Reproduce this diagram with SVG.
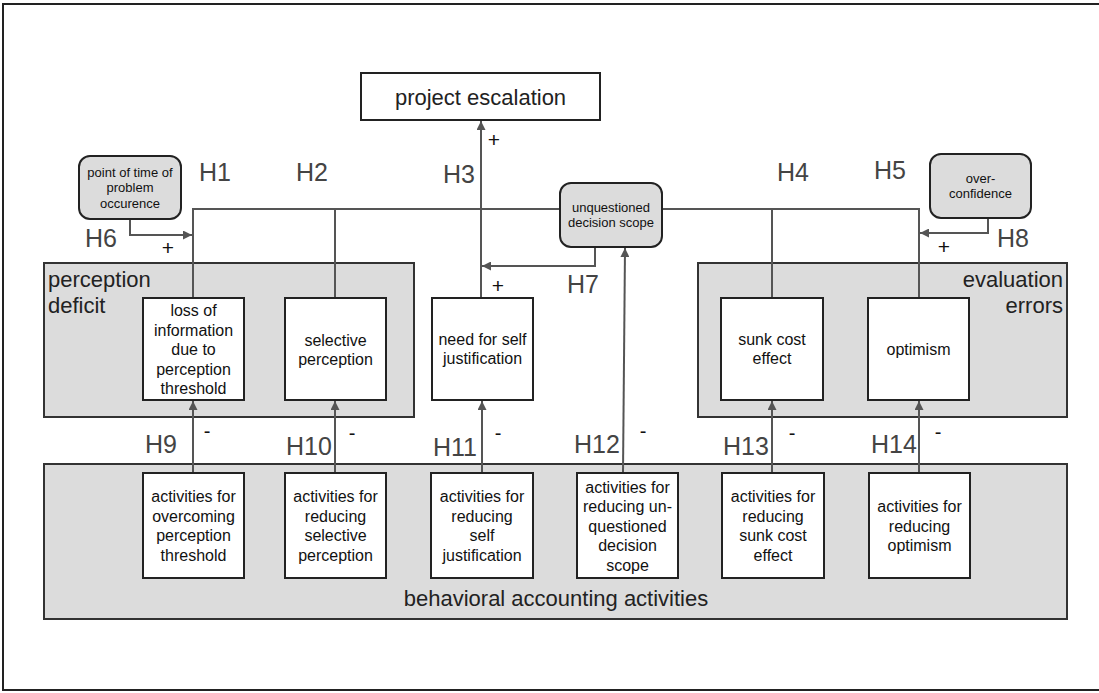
<svg xmlns="http://www.w3.org/2000/svg" width="1099" height="693" viewBox="0 0 1099 693">
<style>
text{font-family:"Liberation Sans",Arial,sans-serif}
.frame{fill:#fff;stroke:#222;stroke-width:2}
.grp{fill:#dcdcdc;stroke:#333;stroke-width:2}
.box{fill:#fff;stroke:#222;stroke-width:2}
.rbox{fill:#dcdcdc;stroke:#222;stroke-width:2}
.ln{fill:none;stroke:#555;stroke-width:2}
.h{font-size:25px;fill:#444}
.gl{font-size:22px;fill:#222}
.t{font-size:16px;fill:#111;text-anchor:middle}
.s{font-size:13px;fill:#111;text-anchor:middle}
.sg{font-size:21px;fill:#111;text-anchor:middle}
.mn{font-size:20px;fill:#111;text-anchor:middle}
</style>
<defs>
<marker id="ah" viewBox="0 0 10 10" refX="10" refY="5" markerWidth="9" markerHeight="9" markerUnits="userSpaceOnUse" orient="auto">
<path d="M0,0 L10,5 L0,10 z" fill="#555"/>
</marker>
</defs>
<rect class="frame" x="3" y="4" width="1100" height="686"/>

<g id="perception-deficit">
<rect class="grp" x="44" y="263" width="370" height="154"/>
<text class="gl" x="48" y="287">perception</text>
<text class="gl" x="48" y="313">deficit</text>
</g>
<g id="evaluation-errors">
<rect class="grp" x="698" y="263" width="369" height="154"/>
<text class="gl" x="1063" y="287" text-anchor="end">evaluation</text>
<text class="gl" x="1063" y="313" text-anchor="end">errors</text>
</g>
<g id="behavioral-accounting-activities">
<rect class="grp" x="44" y="464" width="1023" height="155"/>
<text class="gl" x="556" y="606" text-anchor="middle">behavioral accounting activities</text>
</g>

<g id="connectors">
<path class="ln" d="M193,298 V209 H919 V298"/>
<path class="ln" d="M335,209 V298"/>
<path class="ln" d="M772,209 V298"/>
<path class="ln" d="M481,298 V121" marker-end="url(#ah)"/>
<path class="ln" d="M595,247 V266 H482" marker-end="url(#ah)"/>
<path class="ln" d="M623,473 L625,248" marker-end="url(#ah)"/>
<path class="ln" d="M130,219 V235 H192" marker-end="url(#ah)"/>
<path class="ln" d="M988,218 V233 H920" marker-end="url(#ah)"/>
<path class="ln" d="M193,473 V401" marker-end="url(#ah)"/>
<path class="ln" d="M335,473 V401" marker-end="url(#ah)"/>
<path class="ln" d="M482,473 V401" marker-end="url(#ah)"/>
<path class="ln" d="M772,473 V401" marker-end="url(#ah)"/>
<path class="ln" d="M919,473 V401" marker-end="url(#ah)"/>
</g>

<g id="labels">
<text class="h" x="199" y="181">H1</text>
<text class="h" x="296" y="181">H2</text>
<text class="h" x="443" y="183">H3</text>
<text class="h" x="777" y="181">H4</text>
<text class="h" x="874" y="179">H5</text>
<text class="h" x="85" y="247">H6</text>
<text class="h" x="567" y="293">H7</text>
<text class="h" x="997" y="247">H8</text>
<text class="h" x="145" y="453">H9</text>
<text class="h" x="286" y="455">H10</text>
<text class="h" x="433" y="456">H11</text>
<text class="h" x="574" y="453">H12</text>
<text class="h" x="723" y="455">H13</text>
<text class="h" x="871" y="453">H14</text>
<text class="sg" x="168" y="255">+</text>
<text class="sg" x="494" y="147">+</text>
<text class="sg" x="498" y="293">+</text>
<text class="sg" x="944" y="254">+</text>
<text class="mn" x="207" y="438">-</text>
<text class="mn" x="352" y="440">-</text>
<text class="mn" x="498" y="440">-</text>
<text class="mn" x="643" y="438">-</text>
<text class="mn" x="792" y="440">-</text>
<text class="mn" x="938" y="439">-</text>
</g>

<g id="project-escalation">
<rect class="box" x="361" y="73" width="239" height="47"/>
<text class="gl" x="480.5" y="105" text-anchor="middle">project escalation</text>
</g>
<g id="point-of-time">
<rect class="rbox" x="79" y="156" width="102" height="63" rx="11"/>
<text class="s" x="130" y="177">point of time of</text>
<text class="s" x="130" y="192">problem</text>
<text class="s" x="130" y="207.5">occurence</text>
</g>
<g id="unquestioned-decision-scope">
<rect class="rbox" x="560" y="183" width="102" height="64" rx="11"/>
<text class="s" x="611" y="211.5">unquestioned</text>
<text class="s" x="611" y="226.5">decision scope</text>
</g>
<g id="overconfidence">
<rect class="rbox" x="930" y="154" width="101" height="64" rx="11"/>
<text class="s" x="980.5" y="183">over-</text>
<text class="s" x="980.5" y="198">confidence</text>
</g>

<g id="loss-of-information">
<rect class="box" x="143" y="298" width="101" height="102"/>
<text class="t" x="193.5" y="316">loss of</text>
<text class="t" x="193.5" y="335.5">information</text>
<text class="t" x="193.5" y="355">due to</text>
<text class="t" x="193.5" y="374.5">perception</text>
<text class="t" x="193.5" y="394">threshold</text>
</g>
<g id="selective-perception">
<rect class="box" x="285" y="298" width="101" height="102"/>
<text class="t" x="335.5" y="345.5">selective</text>
<text class="t" x="335.5" y="365">perception</text>
</g>
<g id="need-for-self-justification">
<rect class="box" x="432" y="298" width="101" height="102"/>
<text class="t" x="482.5" y="345">need for self</text>
<text class="t" x="482.5" y="364">justification</text>
</g>
<g id="sunk-cost-effect">
<rect class="box" x="721" y="298" width="102" height="102"/>
<text class="t" x="772" y="345">sunk cost</text>
<text class="t" x="772" y="364">effect</text>
</g>
<g id="optimism">
<rect class="box" x="868" y="298" width="101" height="102"/>
<text class="t" x="918.5" y="355">optimism</text>
</g>

<g id="act-perception-threshold">
<rect class="box" x="143" y="473" width="101" height="105"/>
<text class="t" x="193.5" y="502">activities for</text>
<text class="t" x="193.5" y="521.5">overcoming</text>
<text class="t" x="193.5" y="541">perception</text>
<text class="t" x="193.5" y="560.5">threshold</text>
</g>
<g id="act-selective-perception">
<rect class="box" x="285" y="473" width="101" height="105"/>
<text class="t" x="335.5" y="502">activities for</text>
<text class="t" x="335.5" y="521.5">reducing</text>
<text class="t" x="335.5" y="541">selective</text>
<text class="t" x="335.5" y="560.5">perception</text>
</g>
<g id="act-self-justification">
<rect class="box" x="431" y="473" width="102" height="105"/>
<text class="t" x="482" y="502">activities for</text>
<text class="t" x="482" y="521.5">reducing</text>
<text class="t" x="482" y="541">self</text>
<text class="t" x="482" y="560.5">justification</text>
</g>
<g id="act-decision-scope">
<rect class="box" x="577" y="473" width="101" height="105"/>
<text class="t" x="627.5" y="492.5">activities for</text>
<text class="t" x="627.5" y="512">reducing un-</text>
<text class="t" x="627.5" y="531.5">questioned</text>
<text class="t" x="627.5" y="551">decision</text>
<text class="t" x="627.5" y="570.5">scope</text>
</g>
<g id="act-sunk-cost">
<rect class="box" x="722" y="473" width="102" height="105"/>
<text class="t" x="773" y="502">activities for</text>
<text class="t" x="773" y="521.5">reducing</text>
<text class="t" x="773" y="541">sunk cost</text>
<text class="t" x="773" y="560.5">effect</text>
</g>
<g id="act-optimism">
<rect class="box" x="869" y="473" width="101" height="105"/>
<text class="t" x="919.5" y="512">activities for</text>
<text class="t" x="919.5" y="531.5">reducing</text>
<text class="t" x="919.5" y="551">optimism</text>
</g>
</svg>
